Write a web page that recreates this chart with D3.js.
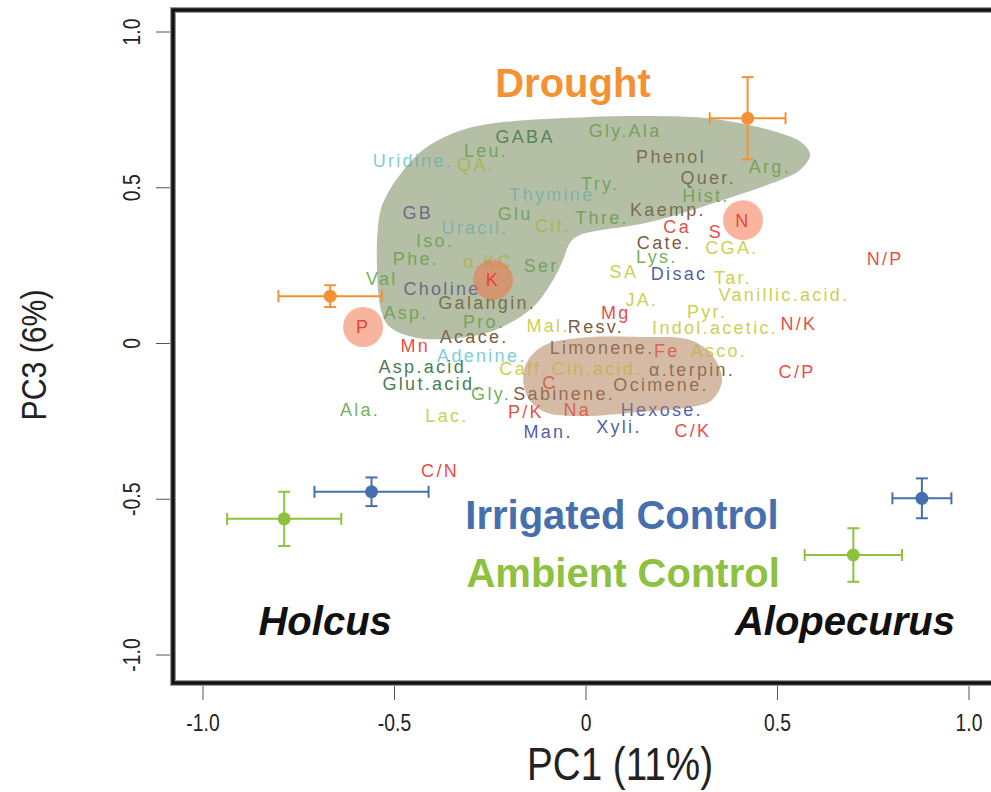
<!DOCTYPE html>
<html>
<head>
<meta charset="utf-8">
<script src="https://cdn.jsdelivr.net/npm/d3@7.9.0/dist/d3.min.js"></script>
<style>
  html, body { margin: 0; padding: 0; background: #fff; }
  svg { display: block; }
  .var { font-family: "Liberation Sans", Arial, sans-serif; font-size: 18px; letter-spacing: 2.3px; }
  .axis-text { font-family: "Liberation Sans", Arial, sans-serif; fill: #222; }
  .note { font-family: "Liberation Sans", Arial, sans-serif; font-weight: bold; font-size: 40px; }
</style>
</head>
<body>
<svg id="chart" width="991" height="792"></svg>
<script>
// variable loadings (PC1, PC3)
const varNames = ['GABA', 'Gly.Ala', 'Leu.', 'Uridine.', 'QA.', 'Phenol', 'Quer.', 'Arg.', 'Try.', 'Hist.',
  'Thymine', 'GB', 'Glu', 'Cit.', 'Thre.', 'Kaemp.', 'Ca', 'S', 'N', 'Uracil.',
  'Iso.', 'Phe.', 'α.KC', 'Ser', 'K', 'Val', 'Choline', 'Galangin.', 'Asp.', 'P',
  'Pro.', 'Mal.', 'Resv.', 'Mg', 'JA.', 'SA', 'Disac', 'Lys.', 'Cate.', 'CGA.',
  'Tar.', 'N/P', 'Vanillic.acid.', 'Pyr.', 'Indol.acetic.', 'N/K', 'Mn', 'Acace.', 'Adenine.', 'Asp.acid.',
  'Glut.acid.', 'Caff.', 'Cin.acid.', 'Limonene.', 'Fe', 'Asco.', 'α.terpin.', 'C/P', 'C', 'Gly.',
  'Sabinene.', 'Ocimene.', 'Ala.', 'Lac.', 'P/K', 'Na', 'Hexose.', 'Man.', 'Xyli.', 'C/K', 'C/N'];
const varPC1 = [-0.159, 0.102, -0.261, -0.452, -0.287, 0.222, 0.319, 0.480, 0.037, 0.313,
  -0.089, -0.439, -0.185, -0.086, 0.042, 0.214, 0.238, 0.339, 0.410, -0.290,
  -0.394, -0.444, -0.256, -0.117, -0.243, -0.533, -0.376, -0.258, -0.470, -0.582,
  -0.266, -0.099, 0.026, 0.078, 0.146, 0.099, 0.243, 0.185, 0.204, 0.381,
  0.384, 0.781, 0.517, 0.316, 0.337, 0.556, -0.446, -0.292, -0.272, -0.418,
  -0.402, -0.162, 0.029, 0.042, 0.211, 0.347, 0.277, 0.551, -0.094, -0.248,
  -0.057, 0.196, -0.590, -0.363, -0.157, -0.023, 0.198, -0.099, 0.086, 0.279, -0.381];
const varPC3 = [0.663, 0.685, 0.621, 0.589, 0.573, 0.599, 0.534, 0.567, 0.515, 0.474,
  0.477, 0.422, 0.416, 0.380, 0.403, 0.429, 0.377, 0.361, 0.396, 0.371,
  0.332, 0.274, 0.262, 0.249, 0.204, 0.210, 0.178, 0.133, 0.101, 0.053,
  0.069, 0.059, 0.053, 0.101, 0.140, 0.230, 0.226, 0.278, 0.323, 0.307,
  0.213, 0.274, 0.156, 0.104, 0.050, 0.063, -0.005, 0.021, -0.037, -0.075,
  -0.130, -0.079, -0.079, -0.014, -0.024, -0.021, -0.085, -0.091, -0.124, -0.162,
  -0.159, -0.133, -0.213, -0.230, -0.217, -0.213, -0.213, -0.281, -0.268, -0.278, -0.409];
const varClass = ['dkamino', 'amino', 'amino', 'nucleo', 'acid', 'phenol', 'phenol', 'amino', 'amino', 'amino',
  'nucleo', 'quat', 'amino', 'acid', 'amino', 'phenol', 'element', 'element', 'element', 'nucleo',
  'amino', 'amino', 'acid', 'amino', 'element', 'amino', 'quat', 'phenol', 'amino', 'element',
  'amino', 'acid', 'phenol', 'element', 'acid', 'acid', 'sugar', 'amino', 'phenol', 'acid',
  'acid', 'element', 'acid', 'acid', 'acid', 'element', 'element', 'phenol', 'nucleo', 'dkamino',
  'dkamino', 'acid', 'acid', 'phenol', 'element', 'acid', 'phenol', 'element', 'element', 'amino',
  'phenol', 'phenol', 'amino', 'acid', 'element', 'element', 'sugar', 'sugar', 'sugar', 'element', 'element'];
const circledVars = ['N', 'K', 'P'];

// treatment group means with standard errors
const groupNames = ['Drought', 'Drought', 'Irrigated', 'Irrigated', 'Ambient', 'Ambient'];
const groupPC1 = [0.422, -0.668, -0.560, 0.877, -0.788, 0.698];
const groupPC3 = [0.723, 0.152, -0.476, -0.497, -0.563, -0.679];
const groupErrPC1 = [0.099, 0.135, 0.149, 0.077, 0.149, 0.127];
const groupErrPC3 = [0.132, 0.035, 0.046, 0.064, 0.087, 0.086];

// hull outlines (PC1, PC3)
const greenHullPC1 = [-0.538, -0.520, -0.486, -0.426, -0.347, -0.258, 0.010, 0.159, 0.332, 0.480, 0.564, 0.585,
  0.559, 0.507, 0.358, 0.167, -0.016, -0.042, -0.060, -0.086, -0.138, -0.225, -0.311, -0.441, -0.512, -0.533, -0.546];
const greenHullPC3 = [0.419, 0.477, 0.541, 0.621, 0.675, 0.704, 0.727, 0.730, 0.721, 0.685, 0.644, 0.605,
  0.557, 0.525, 0.461, 0.390, 0.348, 0.323, 0.268, 0.204, 0.117, 0.050, 0.021, 0.018, 0.053, 0.098, 0.258];
const brownHullPC1 = [-0.164, -0.151, -0.107, -0.016, 0.141, 0.272, 0.329, 0.355, 0.329, 0.272, 0.141, -0.016, -0.107, -0.151];
const brownHullPC3 = [-0.107, -0.053, -0.005, 0.018, 0.021, 0.011, -0.037, -0.117, -0.181, -0.204, -0.220, -0.233, -0.220, -0.175];

// text notes
const noteTexts = ['Drought', 'Irrigated Control', 'Ambient Control', 'Holcus', 'Alopecurus'];
const notePC1 = [-0.034, 0.094, 0.097, -0.681, 0.676];
const notePC3 = [0.791, -0.595, -0.782, -0.936, -0.936];

const tickValues = [-1, -0.5, 0, 0.5, 1];
const tickLabels = ['-1.0', '-0.5', '0', '0.5', '1.0'];

const classColor = {
  amino: '#5fa743', dkamino: '#2d6b3b', acid: '#c6ca38', nucleo: '#6fc5d4',
  quat: '#4f3d92', sugar: '#3b4a9b', phenol: '#6a4528', element: '#e8352c'
};
const groupColor = { Drought: '#f39235', Irrigated: '#466fae', Ambient: '#8dc13f' };
const noteColor = ['#f39235', '#466fae', '#8dc13f', '#111', '#111'];

const x = d3.scaleLinear().domain([-1, 1]).range([203, 969]);
const y = d3.scaleLinear().domain([-1, 1]).range([655, 32]);

const svg = d3.select('#chart');
svg.append('rect').attr('width', 991).attr('height', 792).attr('fill', '#fff');

const frame = { left: 173, top: 10, bottom: 683, right: 1100 };
const squeeze = 0.84; // axis text is set in a condensed face

// axes ticks
svg.append('g').selectAll('line').data(tickValues).join('line')
  .attr('x1', (d) => x(d)).attr('x2', (d) => x(d))
  .attr('y1', frame.bottom).attr('y2', frame.bottom + 17)
  .attr('stroke', '#555').attr('stroke-width', 1);
svg.append('g').selectAll('text').data(tickValues).join('text')
  .attr('class', 'axis-text')
  .attr('transform', (d) => `translate(${x(d)},731) scale(${squeeze},1)`)
  .attr('text-anchor', 'middle').attr('font-size', 23)
  .text((d, i) => tickLabels[i]);

svg.append('g').selectAll('line').data(tickValues).join('line')
  .attr('x1', frame.left - 17).attr('x2', frame.left)
  .attr('y1', (d) => y(d)).attr('y2', (d) => y(d))
  .attr('stroke', '#555').attr('stroke-width', 1);
svg.append('g').selectAll('text').data(tickValues).join('text')
  .attr('class', 'axis-text')
  .attr('transform', (d) => `translate(140,${y(d)}) rotate(-90) scale(${squeeze},1)`)
  .attr('text-anchor', 'middle').attr('font-size', 23)
  .text((d, i) => tickLabels[i]);

svg.append('text').attr('class', 'axis-text')
  .attr('transform', `translate(620,780) scale(${squeeze},1)`).attr('text-anchor', 'middle')
  .attr('font-size', 46).text('PC1 (11%)');
svg.append('text').attr('class', 'axis-text')
  .attr('transform', `translate(46,355) rotate(-90) scale(${squeeze},1)`).attr('text-anchor', 'middle')
  .attr('font-size', 36).text('PC3 (6%)');

const vars = varNames.map((name, i) => ({ name, pc1: varPC1[i], pc3: varPC3[i], cls: varClass[i] }));
const hullLine = d3.line().x((d) => x(d[0])).y((d) => y(d[1])).curve(d3.curveCatmullRomClosed.alpha(0.5));
const greenHull = greenHullPC1.map((v, i) => [v, greenHullPC3[i]]);
const brownHull = brownHullPC1.map((v, i) => [v, brownHullPC3[i]]);

// pale base of the hulls, labels, then a tinted veil over them
svg.append('path').attr('d', hullLine(greenHull)).attr('fill', '#d7decd');
svg.append('path').attr('d', hullLine(brownHull)).attr('fill', '#e6d7c8');

function drawLabels(rows) {
  svg.append('g').selectAll('text').data(rows).join('text')
    .attr('class', 'var')
    .attr('x', (d) => x(d.pc1)).attr('y', (d) => y(d.pc3))
    .attr('dy', '0.36em').attr('text-anchor', 'middle')
    .attr('fill', (d) => classColor[d.cls]).attr('fill-opacity', 0.9)
    .text((d) => d.name);
}
drawLabels(vars.filter((d) => !circledVars.includes(d.name)));

svg.append('path').attr('d', hullLine(greenHull)).attr('fill', '#7f906b').attr('fill-opacity', 0.4);
svg.append('path').attr('d', hullLine(brownHull)).attr('fill', '#bb9170').attr('fill-opacity', 0.4);

// salmon circles behind N, K, P
svg.append('g').selectAll('circle')
  .data(vars.filter((d) => circledVars.includes(d.name))).join('circle')
  .attr('cx', (d) => x(d.pc1)).attr('cy', (d) => y(d.pc3)).attr('r', 20)
  .attr('fill', '#f26f44').attr('fill-opacity', 0.52);
drawLabels(vars.filter((d) => circledVars.includes(d.name)));

// group means with error bars
const groups = groupNames.map((g, i) => ({
  g, pc1: groupPC1[i], pc3: groupPC3[i], ex: groupErrPC1[i], ey: groupErrPC3[i]
}));
const cap = 6;
const gb = svg.append('g').selectAll('g').data(groups).join('g')
  .attr('stroke', (d) => groupColor[d.g]).attr('stroke-width', 2);
gb.append('line')
  .attr('x1', (d) => x(d.pc1 - d.ex)).attr('x2', (d) => x(d.pc1 + d.ex))
  .attr('y1', (d) => y(d.pc3)).attr('y2', (d) => y(d.pc3));
gb.append('line')
  .attr('x1', (d) => x(d.pc1)).attr('x2', (d) => x(d.pc1))
  .attr('y1', (d) => y(d.pc3 - d.ey)).attr('y2', (d) => y(d.pc3 + d.ey));
gb.append('line')
  .attr('x1', (d) => x(d.pc1 - d.ex)).attr('x2', (d) => x(d.pc1 - d.ex))
  .attr('y1', (d) => y(d.pc3) - cap).attr('y2', (d) => y(d.pc3) + cap);
gb.append('line')
  .attr('x1', (d) => x(d.pc1 + d.ex)).attr('x2', (d) => x(d.pc1 + d.ex))
  .attr('y1', (d) => y(d.pc3) - cap).attr('y2', (d) => y(d.pc3) + cap);
gb.append('line')
  .attr('x1', (d) => x(d.pc1) - cap).attr('x2', (d) => x(d.pc1) + cap)
  .attr('y1', (d) => y(d.pc3 - d.ey)).attr('y2', (d) => y(d.pc3 - d.ey));
gb.append('line')
  .attr('x1', (d) => x(d.pc1) - cap).attr('x2', (d) => x(d.pc1) + cap)
  .attr('y1', (d) => y(d.pc3 + d.ey)).attr('y2', (d) => y(d.pc3 + d.ey));
gb.append('circle')
  .attr('cx', (d) => x(d.pc1)).attr('cy', (d) => y(d.pc3)).attr('r', 6.5)
  .attr('stroke', 'none').attr('fill', (d) => groupColor[d.g]);

// notes
svg.append('g').selectAll('text').data(noteTexts).join('text')
  .attr('class', 'note')
  .attr('x', (d, i) => x(notePC1[i])).attr('y', (d, i) => y(notePC3[i]))
  .attr('text-anchor', 'middle')
  .attr('font-style', (d, i) => (i >= 3 ? 'italic' : 'normal'))
  .attr('font-size', (d, i) => (i === 0 ? 36 : 40))
  .attr('fill', (d, i) => noteColor[i])
  .text((d) => d);

// frame
svg.append('rect')
  .attr('x', frame.left).attr('y', frame.top)
  .attr('width', frame.right - frame.left).attr('height', frame.bottom - frame.top)
  .attr('fill', 'none').attr('stroke', '#999').attr('stroke-width', 6);
svg.append('rect')
  .attr('x', frame.left).attr('y', frame.top)
  .attr('width', frame.right - frame.left).attr('height', frame.bottom - frame.top)
  .attr('fill', 'none').attr('stroke', '#111').attr('stroke-width', 3.5);
</script>
</body>
</html>
